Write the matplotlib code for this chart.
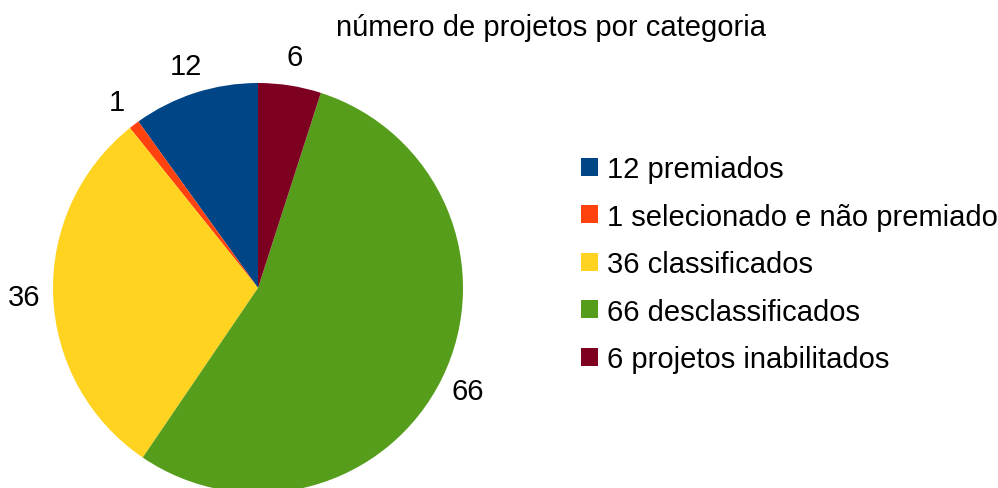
import matplotlib
matplotlib.use("Agg")
import matplotlib.pyplot as plt
from matplotlib.patches import Patch

plt.rcParams['font.family'] = ['Liberation Sans', 'DejaVu Sans']

categories = ["12 premiados", "1 selecionado e não premiado", "36 classificados",
              "66 desclassificados", "6 projetos inabilitados"]
values = [12, 1, 36, 66, 6]
value_labels = ["12", "1", "36", "66", "6"]
colors = ["#004586", "#ff420e", "#ffd320", "#579d1c", "#7e0021"]
title = "número de projetos por categoria"

W, H = 998, 489
fs = 21
fig = plt.figure(figsize=(W / 100, H / 100), dpi=100)

cx, cy, r = 258, 289, 205
ax = fig.add_axes([(cx - r) / W, (H - cy - r) / H, 2 * r / W, 2 * r / H])
wedges, texts = ax.pie(values, labels=value_labels, colors=colors, startangle=90,
                       counterclock=True, radius=1, labeldistance=1.14,
                       wedgeprops=dict(linewidth=0),
                       textprops=dict(fontsize=fs))
for t in texts:
    t.set_ha("center")
    t.set_va("center")
ax.set_xlim(-1, 1)
ax.set_ylim(-1, 1)
ax.set_aspect("auto")
ax.axis("off")

fig.text(551 / W, 1 - 28 / H, title, ha="center", va="center", fontsize=fs)

handles = [Patch(facecolor=c, edgecolor="none") for c in colors]
fig.legend(handles, categories, loc="upper left",
           bbox_to_anchor=(581 / W, 1 - 156 / H), frameon=False, fontsize=fs,
           handlelength=0.58, handleheight=0.58, handletextpad=0.31,
           labelspacing=0.67, borderpad=0, borderaxespad=0)

fig.savefig("out.png", dpi=100)
